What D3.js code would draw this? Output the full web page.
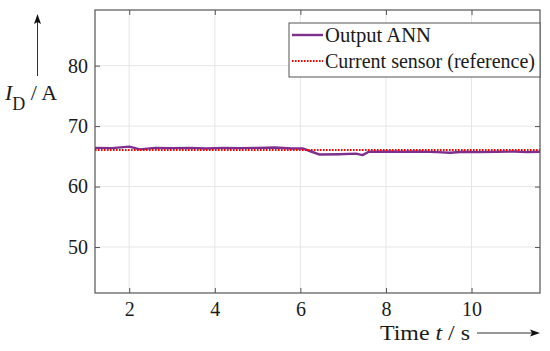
<!DOCTYPE html>
<html>
<head>
<meta charset="utf-8">
<script src="https://cdn.jsdelivr.net/npm/d3@7"></script>
<style>
  body { margin: 0; background: #fff; }
  svg { display: block; }
  text { font-family: "Liberation Serif", "DejaVu Serif", serif; fill: #1a1a1a; }
</style>
</head>
<body>
<script>
// data
var timeAnn = [1.2, 1.6, 2.0, 2.25, 2.6, 3.0, 3.4, 3.8, 4.2, 4.6, 5.0, 5.4, 5.8, 6.05, 6.25, 6.45, 6.9, 7.3, 7.45, 7.6, 8.0, 8.4, 8.8, 9.2, 9.5, 9.8, 10.2, 10.6, 11.0, 11.3, 11.6];
var currentAnn = [66.4, 66.35, 66.6, 66.15, 66.4, 66.35, 66.4, 66.3, 66.4, 66.35, 66.4, 66.45, 66.3, 66.3, 65.8, 65.3, 65.35, 65.45, 65.2, 65.75, 65.8, 65.75, 65.8, 65.7, 65.6, 65.75, 65.7, 65.75, 65.8, 65.7, 65.75];
var timeRef = [1.2, 11.6];
var currentRef = [66.05, 66.05];
var xTicks = [2, 4, 6, 8, 10];
var yTicks = [50, 60, 70, 80];
var legendLabels = ["Output ANN", "Current sensor (reference)"];

var width = 550, height = 351;
var margin = { top: 10, right: 10, bottom: 58, left: 95 };
var innerW = width - margin.left - margin.right,
    innerH = height - margin.top - margin.bottom;
var fontSize = 20;

var svg = d3.select("body").append("svg").attr("width", width).attr("height", height);

var x = d3.scaleLinear().domain([1.2, 11.6]).range([0, innerW]);
var y = d3.scaleLinear().domain([42.4, 89.2]).range([innerH, 0]);

var g = svg.append("g").attr("transform", "translate(" + margin.left + "," + margin.top + ")");

/* grid */
g.append("g").selectAll("line").data(xTicks).enter().append("line")
  .attr("x1", function (d) { return x(d); }).attr("x2", function (d) { return x(d); })
  .attr("y1", 0).attr("y2", innerH).attr("stroke", "#e6e6e6").attr("stroke-width", 1);
g.append("g").selectAll("line").data(yTicks).enter().append("line")
  .attr("y1", function (d) { return y(d); }).attr("y2", function (d) { return y(d); })
  .attr("x1", 0).attr("x2", innerW).attr("stroke", "#e6e6e6").attr("stroke-width", 1);

/* axes with inward ticks */
var tickLen = 5;
g.append("g").attr("transform", "translate(0," + innerH + ")")
  .call(d3.axisBottom(x).tickValues(xTicks).tickSizeInner(-tickLen).tickSizeOuter(0).tickPadding(9));
g.append("g")
  .call(d3.axisLeft(y).tickValues(yTicks).tickSizeInner(-tickLen).tickSizeOuter(0).tickPadding(7));
g.append("g").call(d3.axisTop(x).tickValues(xTicks).tickSizeInner(-tickLen).tickSizeOuter(0).tickFormat(""));
g.append("g").attr("transform", "translate(" + innerW + ",0)")
  .call(d3.axisRight(y).tickValues(yTicks).tickSizeInner(-tickLen).tickSizeOuter(0).tickFormat(""));

g.selectAll(".domain").remove();
g.selectAll(".tick line").attr("stroke", "#555");
g.selectAll(".tick text").attr("font-family", "Liberation Serif, serif").attr("font-size", fontSize).attr("fill", "#1a1a1a");

/* lines */
var annData = timeAnn.map(function (t, i) { return [t, currentAnn[i]]; });
var refData = timeRef.map(function (t, i) { return [t, currentRef[i]]; });
var line = d3.line().x(function (d) { return x(d[0]); }).y(function (d) { return y(d[1]); });

g.append("path").datum(annData).attr("d", line)
  .attr("fill", "none").attr("stroke", "#7e2f8e").attr("stroke-width", 2.4).attr("stroke-linejoin", "round");
g.append("path").datum(refData).attr("d", line)
  .attr("fill", "none").attr("stroke", "#ff0000").attr("stroke-width", 2.2).attr("stroke-dasharray", "1.6,1.4");

/* frame */
g.append("rect").attr("width", innerW).attr("height", innerH)
  .attr("fill", "none").attr("stroke", "#555").attr("stroke-width", 1.2);

/* legend */
var leg = svg.append("g").attr("transform", "translate(289,23)");
leg.append("rect").attr("width", 251).attr("height", 54)
  .attr("fill", "#fff").attr("stroke", "#555").attr("stroke-width", 1);
var legStyles = [
  { stroke: "#7e2f8e", dash: null, w: 2.4 },
  { stroke: "#ff0000", dash: "1.6,1.4", w: 2.2 }
];
legendLabels.forEach(function (lab, i) {
  var cy = 12 + i * 26;
  leg.append("line").attr("x1", 3).attr("x2", 34).attr("y1", cy).attr("y2", cy)
    .attr("stroke", legStyles[i].stroke).attr("stroke-width", legStyles[i].w)
    .attr("stroke-dasharray", legStyles[i].dash);
  leg.append("text").attr("x", 36).attr("y", cy + 6.5).attr("font-size", fontSize)
    .attr("textLength", i === 0 ? 106 : 210).attr("lengthAdjust", "spacingAndGlyphs").text(lab);
});

/* y label with arrow */
svg.append("line").attr("x1", 37.5).attr("x2", 37.5).attr("y1", 76).attr("y2", 22)
  .attr("stroke", "#333").attr("stroke-width", 1);
svg.append("path").attr("d", "M37.5,14 L34,24 L37.5,22 L41,24 Z").attr("fill", "#111");
var yl = svg.append("text").attr("x", 5).attr("y", 100).attr("font-size", 22);
yl.append("tspan").attr("font-style", "italic").text("I");
yl.append("tspan").attr("dy", 10).attr("font-size", 18).text("D");
yl.append("tspan").attr("dy", -10).text(" / A");

/* x label with arrow */
var xl = svg.append("text").attr("x", 380).attr("y", 340).attr("font-size", 21)
  .attr("textLength", 90).attr("lengthAdjust", "spacingAndGlyphs");
xl.append("tspan").text("Time ");
xl.append("tspan").attr("font-style", "italic").text("t");
xl.append("tspan").text(" / s");
svg.append("line").attr("x1", 477).attr("x2", 532).attr("y1", 333).attr("y2", 333)
  .attr("stroke", "#333").attr("stroke-width", 1);
svg.append("path").attr("d", "M540,333 L530,329.5 L532,333 L530,336.5 Z").attr("fill", "#111");
</script>
</body>
</html>
